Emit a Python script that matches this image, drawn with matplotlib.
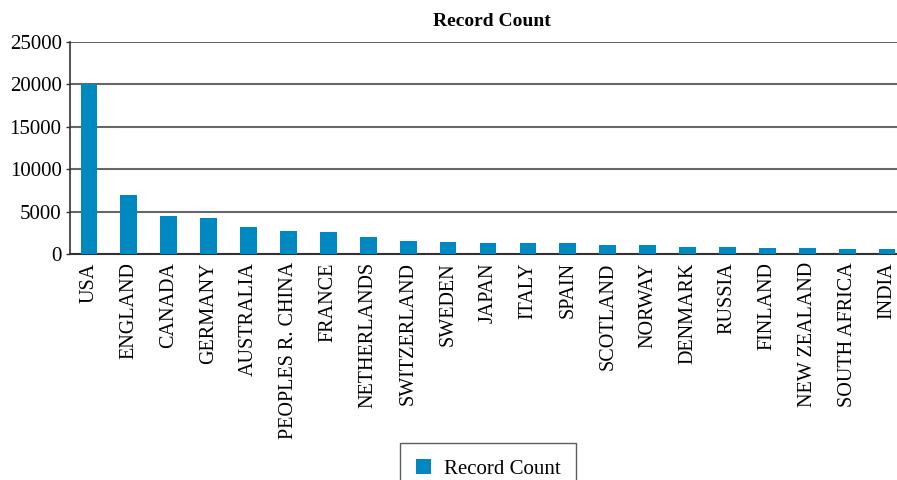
import matplotlib
matplotlib.use("Agg")
import matplotlib.pyplot as plt

countries = ["USA", "ENGLAND", "CANADA", "GERMANY", "AUSTRALIA", "PEOPLES R. CHINA",
             "FRANCE", "NETHERLANDS", "SWITZERLAND", "SWEDEN", "JAPAN", "ITALY", "SPAIN",
             "SCOTLAND", "NORWAY", "DENMARK", "RUSSIA", "FINLAND", "NEW ZEALAND",
             "SOUTH AFRICA", "INDIA"]
record_count = [20000, 7000, 4460, 4230, 3160, 2690, 2610, 1950, 1540, 1420, 1340,
                1260, 1240, 1100, 1030, 770, 780, 760, 680, 620, 560]
yticks = [0, 5000, 10000, 15000, 20000, 25000]

plt.rcParams['font.family'] = ['Liberation Serif', 'DejaVu Serif']

fig = plt.figure(figsize=(8.97, 4.8), dpi=100)
ax = fig.add_axes([70/897, 1 - 254/480, (897-70)/897, (254-42)/480])

x = list(range(len(countries)))
bars = ax.bar(x, record_count, width=0.42, color="#0088c0", label="Record Count", zorder=3)

ax.set_xlim(-0.475, 20.25)
ax.set_ylim(0, 25000)
ax.set_yticks(yticks)
ax.set_yticklabels([str(v) for v in yticks], fontsize=15)
ax.set_xticks(x)
ax.set_xticklabels(countries, rotation=90, fontsize=14.5)
ax.tick_params(axis='x', length=0, pad=6)
ax.tick_params(axis='y', length=3, width=1, color="#333333", pad=3)

ax.grid(axis='y', color="#666666", linewidth=1.5, zorder=0)
for s in ['top', 'right']:
    ax.spines[s].set_visible(False)
ax.spines['left'].set_color("#333333")
ax.spines['bottom'].set_color("#333333")
ax.spines['left'].set_linewidth(1.2)
ax.spines['bottom'].set_linewidth(1.5)

fig.text(492/897, 1 - 22/480, "Record Count", ha='center', va='center',
         fontsize=14, fontweight='bold')

leg = fig.legend(handles=[bars], labels=["Record Count"], loc='upper left',
                 bbox_to_anchor=(400/897, 1 - 443/480), fontsize=15,
                 frameon=True, fancybox=False, edgecolor="#333333",
                 handlelength=0.75, handleheight=0.75, borderpad=0.75, handletextpad=0.6,
                 borderaxespad=0)
leg.get_frame().set_linewidth(1.0)

fig.savefig("out.png", dpi=100)
